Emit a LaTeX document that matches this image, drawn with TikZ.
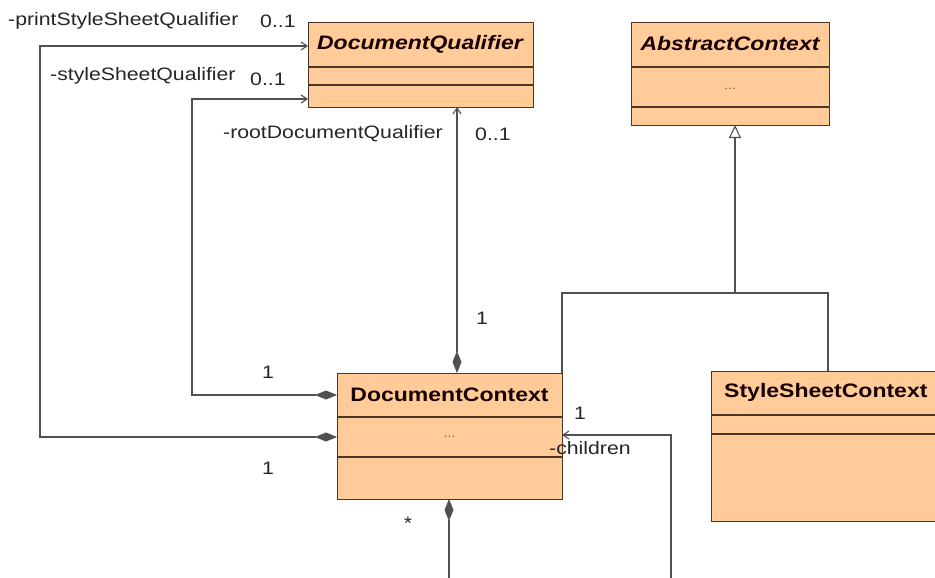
\documentclass[tikz,border=0pt]{standalone}
\usepackage{fontspec}
\usetikzlibrary{arrows.meta}
\newfontfamily\labfont[FakeStretch=1.18]{Liberation Sans}
\definecolor{boxfill}{HTML}{FFCC99}
\definecolor{boxline}{HTML}{4E3626}
\definecolor{connc}{HTML}{505050}
\begin{document}
\begin{tikzpicture}[x=1pt,y=-1pt,
  cls/.style={draw=boxline, fill=boxfill, line width=1.1pt, inner sep=0pt, anchor=north west},
  div/.style={draw=boxline, line width=1.1pt},
  conn/.style={draw=connc, line width=1.1pt},
  lab/.style={font=\labfont\fontsize{18}{20}\selectfont, text=black!85, inner sep=0pt},
  ttl/.style={font=\labfont\fontsize{19.5}{21}\selectfont\bfseries, text=black!90!red, inner sep=0pt},
  dots/.style={font=\labfont\fontsize{12}{14}\selectfont, text=black!60, inner sep=0pt},
  comp/.style={conn, {Diamond[length=22pt,width=9pt,fill=connc]}-{Straight Barb[length=6pt,width=8pt]}}
]
\useasboundingbox (0,0) rectangle (935,578);
\clip (0,0) rectangle (935,578);
\fill[white] (0,0) rectangle (935,578);

% boxes
\node[cls, minimum width=225pt, minimum height=85pt] (dq) at (308,22) {};
\draw[div] (308,67) -- (533,67);
\draw[div] (308,85) -- (533,85);
\node[ttl, font=\labfont\fontsize{19.5}{21}\selectfont\bfseries\itshape] (dqt) at (420,44) {DocumentQualifier};

\node[cls, minimum width=198pt, minimum height=103pt] (ac) at (631,22) {};
\draw[div] (631,67) -- (829,67);
\draw[div] (631,107) -- (829,107);
\node[ttl, font=\labfont\fontsize{19.5}{21}\selectfont\bfseries\itshape] (act) at (730,44) {AbstractContext};
\node[dots] (acd) at (730,89) {...};

% coordinates
\coordinate (dqL1) at (308,46);
\coordinate (dqL2) at (308,99);
\coordinate (dqB) at (457,107);
\coordinate (dcT) at (457,373);
\coordinate (dcL1) at (337,395);
\coordinate (dcL2) at (337,437);
\coordinate (dcB) at (449,499);
\coordinate (dcR) at (562,435);
\coordinate (dcNE) at (562,373);
\coordinate (acB) at (735,125);
\coordinate (sscT) at (828,371);
\coordinate (join) at (735,293);
\coordinate (botA) at (449,590);
\coordinate (botB) at (671,590);

% generalization lines
\draw[conn] (dcNE) -- (562,293) -- (828,293) -- (sscT);
\draw[conn, -{Triangle[open, length=13pt, width=12pt, fill=white]}] (join) -- (acB);

\node[cls, minimum width=225pt, minimum height=126pt] (dc) at (337,373) {};
\draw[div] (337,417) -- (562,417);
\draw[div] (337,457) -- (562,457);
\node[ttl] (dct) at (449.5,395) {DocumentContext};
\node[dots] (dcd) at (449.5,437) {...};

\node[cls, minimum width=239pt, minimum height=150pt] (ssc) at (711,371) {};
\draw[div] (711,415) -- (950,415);
\draw[div] (711,434) -- (950,434);
\node[ttl, anchor=west] (ssct) at (724,392) {StyleSheetContext};

% associations
\draw[comp] (dcL2) -- (40,437) -- (40,46) -- (dqL1);
\draw[comp] (dcL1) -- (192,395) -- (192,99) -- (dqL2);
\draw[comp] (dcT) -- (dqB);
\draw[conn, {Diamond[length=22pt,width=9pt,fill=connc]}-] (dcB) -- (botA);
\draw[conn, -{Straight Barb[length=6pt,width=8pt]}] (botB) -- (671,435) -- (dcR);

% labels
\node[lab, anchor=west] (l1) at (8,21) {-printStyleSheetQualifier};
\node[lab, anchor=west] (l2) at (260,21) {0..1};
\node[lab, anchor=west] (l3) at (50,76) {-styleSheetQualifier};
\node[lab, anchor=west] (l4) at (250,79) {0..1};
\node[lab, anchor=east] (l5) at (443,134) {-rootDocumentQualifier};
\node[lab, anchor=west] (l6) at (475,134) {0..1};
\node[lab] (l7) at (482,318) {1};
\node[lab] (l8) at (268,372) {1};
\node[lab] (l9) at (268,468) {1};
\node[lab] (l10) at (580,413) {1};
\node[lab, anchor=west] (l11) at (549,448) {-children};
\node[lab] (l12) at (408,523) {*};
\end{tikzpicture}
\end{document}
